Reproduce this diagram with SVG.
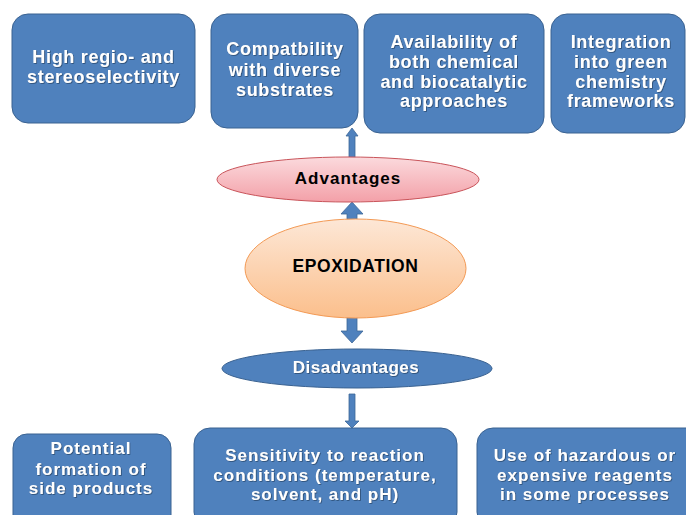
<svg xmlns="http://www.w3.org/2000/svg" width="686" height="515" viewBox="0 0 686 515">
<defs>
<linearGradient id="gPink" x1="0" y1="0" x2="0" y2="1">
<stop offset="0" stop-color="#fbdadd"/>
<stop offset="1" stop-color="#f3a0a8"/>
</linearGradient>
<linearGradient id="gOrange" x1="0" y1="0" x2="0" y2="1">
<stop offset="0" stop-color="#fde7d6"/>
<stop offset="1" stop-color="#fbbf8c"/>
</linearGradient>
<filter id="sh" x="-10%" y="-20%" width="120%" height="140%">
<feDropShadow dx="0.8" dy="0.8" stdDeviation="0.4" flood-color="#1f3550" flood-opacity="0.7"/>
</filter>
</defs>
<style>
.box{fill:#4f81bd;stroke:#3a6291;stroke-width:1}
.arr{fill:#4f81bd;stroke:#3d6798;stroke-width:0.8}
.t{font-family:"Liberation Sans",Arial,sans-serif;font-weight:bold;fill:#ffffff;text-anchor:middle;white-space:pre}
.top{font-size:18px;letter-spacing:0.7px}
.bot{font-size:17px;letter-spacing:1px}
.dk{font-family:"Liberation Sans",Arial,sans-serif;font-weight:bold;fill:#000000;text-anchor:middle}
</style>

<g id="connectors">
<polygon class="arr" points="352,128 358,136 355,136 355,158 349,158 349,136 346,136"/>
<polygon class="arr" points="352,202 363,214 357,214 357,222 347,222 347,214 341,214"/>
<polygon class="arr" points="347,315 357,315 357,331 363,331 352,343 341,331 347,331"/>
<polygon class="arr" points="349,394 355,394 355,421 359,421 352,428 345,421 349,421"/>
</g>

<g id="box-regio">
<rect class="box" x="12" y="14" width="183" height="109" rx="16"/>
<g class="t top" filter="url(#sh)">
<text x="103.5" y="63">High regio-  and</text>
<text x="103.5" y="83">stereoselectivity</text>
</g>
</g>

<g id="box-compat">
<rect class="box" x="211" y="14" width="147" height="114" rx="16"/>
<g class="t top" filter="url(#sh)">
<text x="285" y="55">Compatbility</text>
<text x="285" y="76">with diverse</text>
<text x="285" y="96">substrates</text>
</g>
</g>

<g id="box-availability">
<rect class="box" x="364" y="14" width="180" height="119" rx="16"/>
<g class="t top" filter="url(#sh)">
<text x="454" y="48">Availability of</text>
<text x="454" y="68">both chemical</text>
<text x="454" y="88">and biocatalytic</text>
<text x="454" y="107">approaches</text>
</g>
</g>

<g id="box-green">
<rect class="box" x="551" y="14" width="134" height="119" rx="16"/>
<g class="t top" filter="url(#sh)">
<text x="621" y="48">Integration</text>
<text x="621" y="68">into green</text>
<text x="621" y="88">chemistry</text>
<text x="621" y="107">frameworks</text>
</g>
</g>

<g id="advantages">
<ellipse cx="348" cy="179.5" rx="131" ry="22.5" fill="url(#gPink)" stroke="#c9545a" stroke-width="1"/>
<text class="dk" x="348" y="184" font-size="17" letter-spacing="1">Advantages</text>
</g>

<g id="epoxidation">
<ellipse cx="355.5" cy="268.5" rx="110.5" ry="49.5" fill="url(#gOrange)" stroke="#f39a55" stroke-width="1"/>
<text class="dk" x="355.5" y="272" font-size="17.5" letter-spacing="0.6">EPOXIDATION</text>
</g>

<g id="disadvantages">
<ellipse cx="357" cy="368.5" rx="135" ry="19.5" fill="#4f81bd" stroke="#3a6291" stroke-width="1"/>
<text class="t" x="356" y="373" font-size="17" letter-spacing="0.5" filter="url(#sh)">Disadvantages</text>
</g>

<g id="box-side">
<rect class="box" x="13" y="434" width="158" height="100" rx="14"/>
<g class="t bot" filter="url(#sh)">
<text x="91" y="454">Potential</text>
<text x="91" y="475">formation of</text>
<text x="91" y="494">side products</text>
</g>
</g>

<g id="box-sensitivity">
<rect class="box" x="194" y="428" width="263" height="100" rx="16"/>
<g class="t bot" filter="url(#sh)">
<text x="325" y="461">Sensitivity to reaction</text>
<text x="325" y="481">conditions (temperature,</text>
<text x="325" y="500">solvent, and pH)</text>
</g>
</g>

<g id="box-hazard">
<rect class="box" x="477" y="428" width="230" height="100" rx="16"/>
<g class="t bot" filter="url(#sh)">
<text x="585" y="461">Use of hazardous or</text>
<text x="585" y="481">expensive reagents</text>
<text x="585" y="500">in some processes</text>
</g>
</g>
</svg>
